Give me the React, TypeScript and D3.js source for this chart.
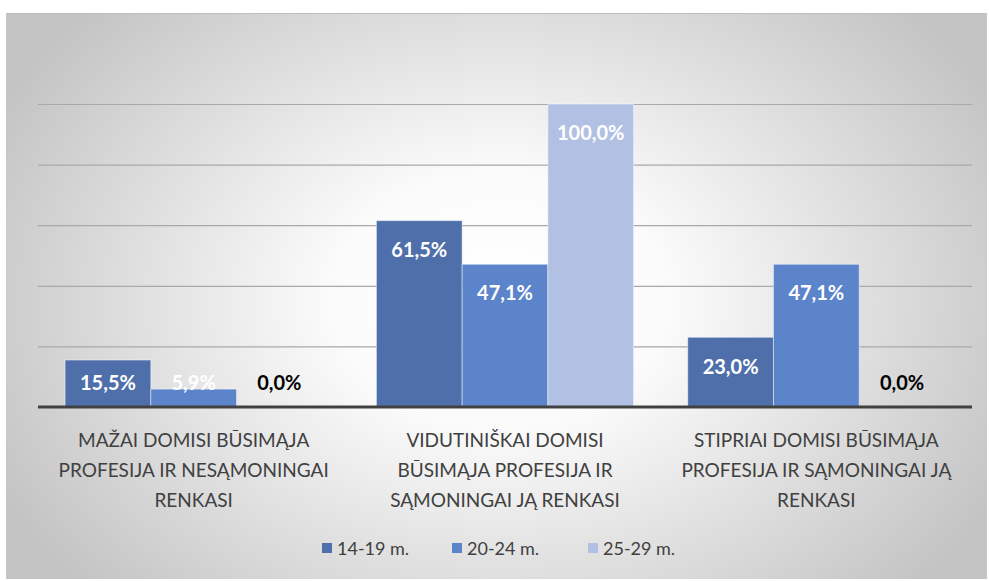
import { useEffect, useRef } from 'react';
import * as d3 from 'd3';

// chart values
const categories = [
  ['MAŽAI DOMISI BŪSIMĄJA', 'PROFESIJA IR NESĄMONINGAI', 'RENKASI'],
  ['VIDUTINIŠKAI DOMISI', 'BŪSIMĄJA PROFESIJA IR', 'SĄMONINGAI JĄ RENKASI'],
  ['STIPRIAI DOMISI BŪSIMĄJA', 'PROFESIJA IR SĄMONINGAI JĄ', 'RENKASI'],
];
const seriesNames = ['14-19 m.', '20-24 m.', '25-29 m.'];
const values14_19 = [15.5, 61.5, 23.0];
const values20_24 = [5.9, 47.1, 47.1];
const values25_29 = [0.0, 100.0, 0.0];
const gridTicks = [0, 20, 40, 60, 80, 100];
const colors = ['#4f6fab', '#5b84cb', '#b2c1e3'];

const App = () => {
  const svgRef = useRef<SVGSVGElement>(null);

  useEffect(() => {
    document.body.style.margin = '0';
    const svg = d3.select(svgRef.current);
    svg.selectAll('*').remove();

    const width = 989;
    const height = 581;
    const frame = { x: 6, y: 13, w: 981, h: 566 };
    const plot = { left: 38, right: 972, top: 104, bottom: 407 };

    // background
    const defs = svg.append('defs');
    const grad = defs.append('radialGradient')
      .attr('id', 'bg')
      .attr('gradientUnits', 'userSpaceOnUse')
      .attr('cx', 500).attr('cy', 300)
      .attr('r', 560)
      .attr('gradientTransform', 'translate(500,300) scale(1,0.75) translate(-500,-300)');
    grad.append('stop').attr('offset', '0%').attr('stop-color', '#ffffff');
    grad.append('stop').attr('offset', '30%').attr('stop-color', '#fbfbfb');
    grad.append('stop').attr('offset', '100%').attr('stop-color', '#c4c4c4');

    svg.attr('width', width).attr('height', height);
    svg.append('rect').attr('width', width).attr('height', height).attr('fill', '#ffffff');
    svg.append('rect')
      .attr('x', frame.x).attr('y', frame.y)
      .attr('width', frame.w).attr('height', frame.h)
      .attr('fill', 'url(#bg)');
    svg.append('line')
      .attr('x1', frame.x).attr('x2', frame.x + frame.w)
      .attr('y1', frame.y + 0.5).attr('y2', frame.y + 0.5)
      .attr('stroke', '#bdbdbd');

    // scales
    const x0 = d3.scaleBand<number>()
      .domain(d3.range(categories.length))
      .range([plot.left, plot.right])
      .paddingInner(0.174)
      .paddingOuter(0.087);
    const x1 = d3.scaleBand<number>()
      .domain(d3.range(seriesNames.length))
      .range([0, x0.bandwidth()]);
    const y = d3.scaleLinear().domain([0, 100]).range([plot.bottom, plot.top]);

    // gridlines
    svg.append('g')
      .selectAll('line')
      .data(gridTicks.slice(1))
      .enter()
      .append('line')
      .attr('x1', plot.left).attr('x2', plot.right)
      .attr('y1', d => y(d) + 0.5).attr('y2', d => y(d) + 0.5)
      .attr('stroke', '#a9a9a9')
      .attr('stroke-width', 1.2);

    const series = [values14_19, values20_24, values25_29];

    // bars
    series.forEach((vals, si) => {
      svg.append('g')
        .selectAll('rect')
        .data(vals)
        .enter()
        .append('rect')
        .attr('x', (_, i) => (x0(i) as number) + (x1(si) as number))
        .attr('y', d => y(d))
        .attr('width', x1.bandwidth())
        .attr('height', d => y(0) - y(d))
        .attr('fill', colors[si])
        .attr('stroke', 'rgba(255,255,255,0.45)')
        .attr('stroke-width', 1);
    });

    // axis line
    svg.append('line')
      .attr('x1', plot.left).attr('x2', plot.right)
      .attr('y1', y(0)).attr('y2', y(0))
      .attr('stroke', '#404040')
      .attr('stroke-width', 3);

    // data labels
    const fmt = (v: number) => v.toFixed(1).replace('.', ',') + '%';
    series.forEach((vals, si) => {
      svg.append('g')
        .selectAll('text')
        .data(vals)
        .enter()
        .append('text')
        .attr('x', (_, i) => (x0(i) as number) + (x1(si) as number) + x1.bandwidth() / 2)
        .attr('y', d => Math.min(y(d) + 29, y(0) - 24))
        .attr('dy', '0.36em')
        .attr('text-anchor', 'middle')
        .attr('font-family', 'Lato, "Open Sans", sans-serif')
        .attr('font-weight', 'bold')
        .attr('font-size', 20)
        .attr('fill', d => (d > 0 ? '#ffffff' : '#000000'))
        .text(d => fmt(d));
    });

    // category labels
    const catG = svg.append('g')
      .attr('font-family', 'Lato, "Open Sans", sans-serif')
      .attr('font-size', 19)
      .attr('fill', '#404040')
      .attr('text-anchor', 'middle');
    categories.forEach((lines, i) => {
      const cx = (x0(i) as number) + x0.bandwidth() / 2;
      catG.append('text')
        .selectAll('tspan')
        .data(lines)
        .enter()
        .append('tspan')
        .attr('x', cx)
        .attr('y', (_, li) => 447 + li * 30)
        .text(d => d);
    });

    // legend
    const legendX = [322, 452, 588];
    const leg = svg.append('g')
      .attr('font-family', 'Lato, "Open Sans", sans-serif')
      .attr('font-size', 18)
      .attr('fill', '#404040');
    seriesNames.forEach((name, i) => {
      leg.append('rect')
        .attr('x', legendX[i]).attr('y', 543)
        .attr('width', 10).attr('height', 10)
        .attr('fill', colors[i]);
      leg.append('text')
        .attr('x', legendX[i] + 15).attr('y', 555)
        .text(name);
    });
  }, []);

  return <svg ref={svgRef}></svg>;
};

export default App;
